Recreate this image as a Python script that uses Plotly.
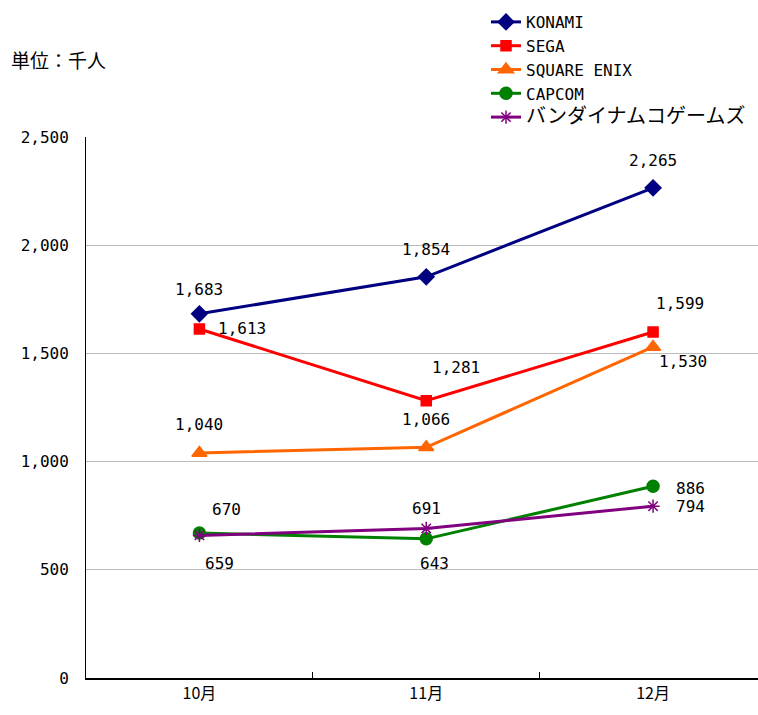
import plotly.graph_objects as go

months = ["10月", "11月", "12月"]
konami = [1683, 1854, 2265]
sega = [1613, 1281, 1599]
square_enix = [1040, 1066, 1530]
capcom = [670, 643, 886]
bandai = [659, 691, 794]

series_names = ["KONAMI", "SEGA", "SQUARE ENIX", "CAPCOM",
                "<span style='font-size:20px'>バンダイナムコゲームズ</span>"]
series_values = [konami, sega, square_enix, capcom, bandai]

colors = ["#000080", "#FF0000", "#FF6600", "#008000", "#800080"]
symbols = ["diamond", "square", "triangle-up", "circle", "asterisk-open"]
msizes = [12, 10, 13, 12, 11]
# label offsets in pixels (style)
offsets = [
    [(0, 24), (0, 27), (0, 27)],
    [(43, 0), (30, 33), (27, 28)],
    [(0, 28), (0, 28), (30, -15)],
    [(27, 24), (8, -25), (37, -2)],
    [(20, -28), (0, 20), (37, 0)],
]

mono = "DejaVu Sans Mono, Noto Sans CJK JP"

fig = go.Figure()
for name, vals, c, s, ms in zip(series_names, series_values, colors, symbols, msizes):
    fig.add_trace(go.Scatter(
        x=months, y=vals, name=name, mode="lines+markers",
        line=dict(color=c, width=3),
        marker=dict(symbol=s, size=ms, color=c, line=dict(color=c, width=1.5)),
    ))

annotations = []
for vals, offs in zip(series_values, offsets):
    for m, v, (dx, dy) in zip(months, vals, offs):
        annotations.append(dict(
            x=m, y=v, xref="x", yref="y", text=f"{v:,}", showarrow=False,
            xshift=dx, yshift=dy, font=dict(family=mono, size=16, color="black"),
        ))

annotations.append(dict(
    x=-(86 - 9) / 672, y=1 + (137 - 60) / 541, xref="paper", yref="paper",
    xanchor="left", yanchor="middle", text="単位：千人", showarrow=False,
    font=dict(family="Noto Sans CJK JP", size=19, color="black"),
))

fig.update_layout(
    width=758, height=715,
    margin=dict(l=86, r=0, t=137, b=37),
    paper_bgcolor="white", plot_bgcolor="white",
    showlegend=True,
    legend=dict(
        x=(486 - 86) / 672, y=1 + (137 - 5) / 541, xanchor="left", yanchor="top",
        font=dict(family=mono, size=16, color="black"),
        bgcolor="rgba(0,0,0,0)", tracegroupgap=0,
    ),
    annotations=annotations,
)
fig.update_xaxes(
    type="category", range=[-0.5, 2.4626],
    showline=True, linecolor="#000000", linewidth=1.5,
    ticks="inside", tickson="boundaries", ticklen=6, tickcolor="#000000",
    showgrid=False, tickfont=dict(family="Noto Sans CJK JP", size=16, color="black"),
)
fig.update_yaxes(
    range=[0, 2500], tickvals=[0, 500, 1000, 1500, 2000, 2500],
    ticktext=["0", "500", "1,000", "1,500", "2,000", "2,500"],
    showline=True, linecolor="#000000", linewidth=1,
    showgrid=True, gridcolor="#BBBBBB", gridwidth=1, zeroline=False,
    ticks="", ticklabelstandoff=13,
    tickfont=dict(family=mono, size=16, color="black"),
)

fig.write_html("out.html")
